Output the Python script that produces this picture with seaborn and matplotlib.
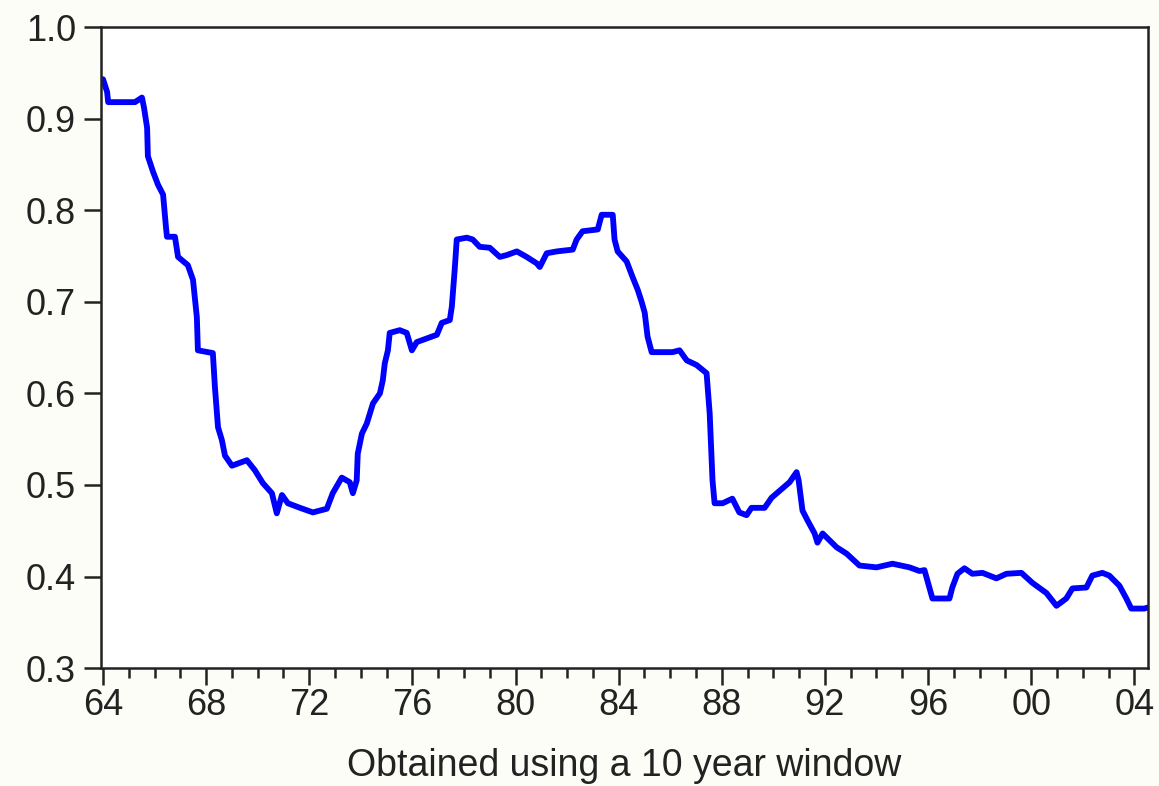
import numpy as np
import pandas as pd
import seaborn as sns
import matplotlib.pyplot as plt
from matplotlib.ticker import MultipleLocator, FuncFormatter

# rolling estimate (decimal years, value)
years = [1964.0, 1964.0, 1964.16, 1964.2, 1965.24, 1965.51, 1965.59, 1965.71, 1965.74, 1965.94,
         1966.13, 1966.33, 1966.44, 1966.48, 1966.79, 1966.91, 1967.29, 1967.49, 1967.64, 1967.68,
         1968.26, 1968.34, 1968.46, 1968.61, 1968.73, 1969.0, 1969.58, 1969.89, 1970.2, 1970.55,
         1970.74, 1970.94, 1971.17, 1971.64, 1972.14, 1972.68, 1972.91, 1973.26, 1973.57, 1973.69,
         1973.84, 1973.88, 1974.04, 1974.23, 1974.47, 1974.74, 1974.85, 1974.93, 1975.05, 1975.12,
         1975.51, 1975.78, 1975.98, 1976.17, 1976.56, 1976.95, 1977.14, 1977.45, 1977.53, 1977.64,
         1977.72, 1978.11, 1978.34, 1978.61, 1979.0, 1979.39, 1979.66, 1980.05, 1980.43, 1980.82,
         1980.94, 1981.21, 1981.6, 1982.22, 1982.37, 1982.6, 1983.19, 1983.34, 1983.77, 1983.84,
         1983.96, 1984.31, 1984.54, 1984.74, 1984.89, 1985.01, 1985.12, 1985.28, 1986.09, 1986.36,
         1986.64, 1987.02, 1987.41, 1987.53, 1987.64, 1987.72, 1988.03, 1988.41, 1988.68, 1988.96,
         1989.15, 1989.66, 1989.93, 1990.63, 1990.9, 1990.98, 1991.13, 1991.33, 1991.6, 1991.71,
         1991.91, 1992.45, 1992.84, 1993.34, 1994.0, 1994.62, 1995.28, 1995.67, 1995.86, 1996.05,
         1996.17, 1996.83, 1996.94, 1997.14, 1997.41, 1997.72, 1998.11, 1998.65, 1999.04, 1999.62,
         2000.05, 2000.59, 2000.98, 2001.36, 2001.6, 2002.14, 2002.37, 2002.76, 2003.03, 2003.42,
         2003.69, 2003.88, 2004.39, 2004.5]
values = [0.943, 0.943, 0.929, 0.918, 0.918, 0.923, 0.912, 0.890, 0.859, 0.842,
          0.828, 0.817, 0.782, 0.771, 0.771, 0.749, 0.740, 0.724, 0.683, 0.647,
          0.644, 0.607, 0.563, 0.549, 0.532, 0.521, 0.527, 0.516, 0.502, 0.491,
          0.469, 0.489, 0.480, 0.475, 0.470, 0.474, 0.491, 0.508, 0.503, 0.491,
          0.505, 0.534, 0.556, 0.567, 0.589, 0.600, 0.614, 0.633, 0.647, 0.666,
          0.669, 0.666, 0.647, 0.656, 0.660, 0.664, 0.677, 0.680, 0.695, 0.735,
          0.768, 0.770, 0.768, 0.760, 0.759, 0.749, 0.751, 0.755, 0.749, 0.742,
          0.738, 0.753, 0.755, 0.757, 0.768, 0.777, 0.779, 0.795, 0.795, 0.768,
          0.755, 0.744, 0.727, 0.713, 0.700, 0.688, 0.662, 0.645, 0.645, 0.647,
          0.636, 0.631, 0.622, 0.578, 0.505, 0.480, 0.480, 0.485, 0.470, 0.467,
          0.475, 0.475, 0.486, 0.503, 0.514, 0.505, 0.472, 0.461, 0.447, 0.437,
          0.447, 0.432, 0.425, 0.412, 0.410, 0.414, 0.410, 0.406, 0.407, 0.388,
          0.376, 0.376, 0.388, 0.403, 0.409, 0.403, 0.404, 0.398, 0.403, 0.404,
          0.393, 0.382, 0.368, 0.376, 0.387, 0.388, 0.401, 0.404, 0.401, 0.390,
          0.376, 0.365, 0.365, 0.366]

df = pd.DataFrame({'year': years, 'value': values})

sns.set_style('ticks')
plt.rcParams['font.family'] = ['Liberation Sans', 'DejaVu Sans']

fig = plt.figure(figsize=(11.59, 7.86), dpi=100, facecolor='#fdfdf8')
ax = fig.add_axes([0.0871, 0.150, 0.9034, 0.8156])
ax.set_facecolor('white')

sns.lineplot(data=df, x='year', y='value', sort=False, estimator=None,
             color='#0000ff', linewidth=4.2, ax=ax)

ax.set_xlim(1963.92, 2004.53)
ax.set_ylim(0.3, 1.0)
ax.xaxis.set_major_locator(MultipleLocator(4))
ax.xaxis.set_minor_locator(MultipleLocator(1))
ax.xaxis.set_major_formatter(FuncFormatter(lambda v, p: '%02d' % (int(round(v)) % 100)))
ax.yaxis.set_major_locator(MultipleLocator(0.1))
ax.yaxis.set_major_formatter(FuncFormatter(lambda v, p: '%.1f' % v))

for s in ax.spines.values():
    s.set_visible(True)
    s.set_color('#222222')
    s.set_linewidth(1.8)

ax.tick_params(axis='both', which='major', direction='out', length=12, width=1.8,
               color='#222222', labelsize=26, labelcolor='#222222', pad=6)
ax.tick_params(axis='x', which='major', pad=2)
ax.tick_params(axis='x', which='minor', direction='out', length=7, width=1.8, color='#222222')
ax.tick_params(axis='y', which='minor', length=0)

ax.set_xlabel('Obtained using a 10 year window', fontsize=27, color='#222222', labelpad=18)
ax.set_ylabel('')

fig.savefig('out.png', dpi=100, facecolor=fig.get_facecolor())
